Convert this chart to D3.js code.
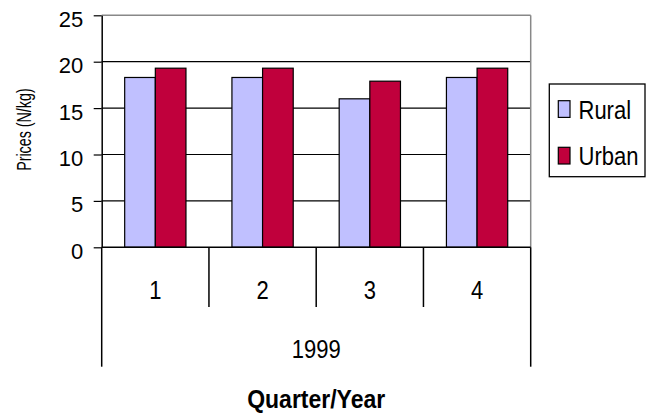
<!DOCTYPE html>
<html>
<head>
<meta charset="utf-8">
<script src="https://cdn.jsdelivr.net/npm/d3@7"></script>
<style>
  html, body { margin: 0; padding: 0; background: #fff; }
  svg { display: block; font-family: "Liberation Sans", Arial, sans-serif; }
</style>
</head>
<body>
<svg id="chart" width="654" height="415"></svg>
<script>
// Quarterly prices, 1999
const quarters = ["1", "2", "3", "4"];
const year = "1999";
const seriesNames = ["Rural", "Urban"];
const rural = [18.3, 18.3, 16.0, 18.3];
const urban = [19.3, 19.3, 17.9, 19.3];
const yTicks = [0, 5, 10, 15, 20, 25];
const seriesColors = ["#C0C0FF", "#C0003C"];

const svg = d3.select("#chart");

// plot area
const plotLeft = 101.7, plotRight = 530.7, plotTop = 15.3, plotBottom = 247.3;

const y = d3.scaleLinear().domain([0, 25]).range([plotBottom, plotTop]);
const x0 = d3.scaleBand().domain(quarters).range([plotLeft, plotRight]).padding(0);
const bw = x0.bandwidth();
const gap = bw * 0.75 / 3.5;
const x1 = d3.scaleBand().domain(seriesNames).range([gap, bw - gap]).padding(0);

const rows = quarters.map((q, i) => ({ q, values: [rural[i], urban[i]] }));

// helper: text with a vertical stretch
function stretchedText(g, str, x, baseline, size, sy, anchor, weight) {
  return g.append("text")
    .attr("transform", `translate(${x},${baseline}) scale(1,${sy})`)
    .attr("text-anchor", anchor)
    .attr("font-size", size)
    .attr("font-weight", weight || "normal")
    .attr("fill", "#000")
    .text(str);
}

// horizontal gridlines
svg.append("g")
  .selectAll("line")
  .data(yTicks.filter(t => t > 0 && t < 25))
  .join("line")
  .attr("x1", plotLeft).attr("x2", plotRight)
  .attr("y1", d => y(d)).attr("y2", d => y(d))
  .attr("stroke", "#000").attr("stroke-width", 1.2);

// plot frame (top and right in grey)
svg.append("line").attr("x1", plotLeft).attr("x2", plotRight).attr("y1", plotTop).attr("y2", plotTop)
  .attr("stroke", "#888").attr("stroke-width", 1.5);
svg.append("line").attr("x1", plotRight).attr("x2", plotRight).attr("y1", plotTop).attr("y2", plotBottom)
  .attr("stroke", "#888").attr("stroke-width", 1.5);

// bars
svg.append("g")
  .selectAll("g")
  .data(rows)
  .join("g")
  .attr("transform", d => `translate(${x0(d.q)},0)`)
  .selectAll("rect")
  .data(d => d.values.map((v, i) => ({ name: seriesNames[i], v, i })))
  .join("rect")
  .attr("x", d => x1(d.name))
  .attr("width", x1.bandwidth())
  .attr("y", d => y(d.v))
  .attr("height", d => y(0) - y(d.v))
  .attr("fill", d => seriesColors[d.i])
  .attr("stroke", "#000")
  .attr("stroke-width", 1.2);

// y axis
const yAxis = svg.append("g")
  .attr("transform", `translate(${plotLeft},0)`)
  .call(d3.axisLeft(y).tickValues(yTicks).tickSize(8).tickPadding(10.5).tickSizeOuter(0));
yAxis.select(".domain").attr("stroke", "#000").attr("stroke-width", 1.5);
yAxis.selectAll(".tick line").attr("stroke", "#000").attr("stroke-width", 1.2);
yAxis.selectAll(".tick text")
  .attr("font-size", 22)
  .attr("font-family", "'Liberation Sans', Arial, sans-serif")
  .attr("fill", "#000")
  .attr("dy", "0.5em");

// x axis line and category dividers
svg.append("line").attr("x1", plotLeft).attr("x2", plotRight).attr("y1", plotBottom).attr("y2", plotBottom)
  .attr("stroke", "#000").attr("stroke-width", 1.5);
const edges = quarters.map(q => x0(q)).concat([plotRight]);
svg.append("g")
  .selectAll("line")
  .data(edges)
  .join("line")
  .attr("x1", d => d).attr("x2", d => d)
  .attr("y1", plotBottom)
  .attr("y2", (d, i) => (i === 0 || i === edges.length - 1) ? 366.7 : 307)
  .attr("stroke", "#000").attr("stroke-width", 1.5);

// category labels
const labels = svg.append("g");
quarters.forEach(q => {
  stretchedText(labels, q, x0(q) + bw / 2, 298.5, 22, 1.16, "middle");
});
stretchedText(labels, year, (plotLeft + plotRight) / 2, 357.5, 22, 1.16, "middle");

// axis titles
stretchedText(labels, "Quarter/Year", (plotLeft + plotRight) / 2, 408.3, 23, 1.11, "middle", "bold");
svg.append("text")
  .attr("transform", "translate(31,129.6) rotate(-90) scale(0.84,1.15)")
  .attr("text-anchor", "middle")
  .attr("font-size", 17)
  .attr("fill", "#000")
  .text("Prices (N/kg)");

// legend
const legend = svg.append("g");
legend.append("rect")
  .attr("x", 549.3).attr("y", 84).attr("width", 95.7).attr("height", 92.7)
  .attr("fill", "#fff").attr("stroke", "#000").attr("stroke-width", 1.3);
const keyTop = [100.7, 147.3];
const keyBase = [119.3, 165];
seriesNames.forEach((name, i) => {
  legend.append("rect")
    .attr("x", 558.3).attr("y", keyTop[i]).attr("width", 11.7).attr("height", 16.7)
    .attr("fill", seriesColors[i]).attr("stroke", "#000").attr("stroke-width", 1.2);
  stretchedText(legend, name, 578.5, keyBase[i], 22, 1.19, "start");
});
</script>
</body>
</html>
